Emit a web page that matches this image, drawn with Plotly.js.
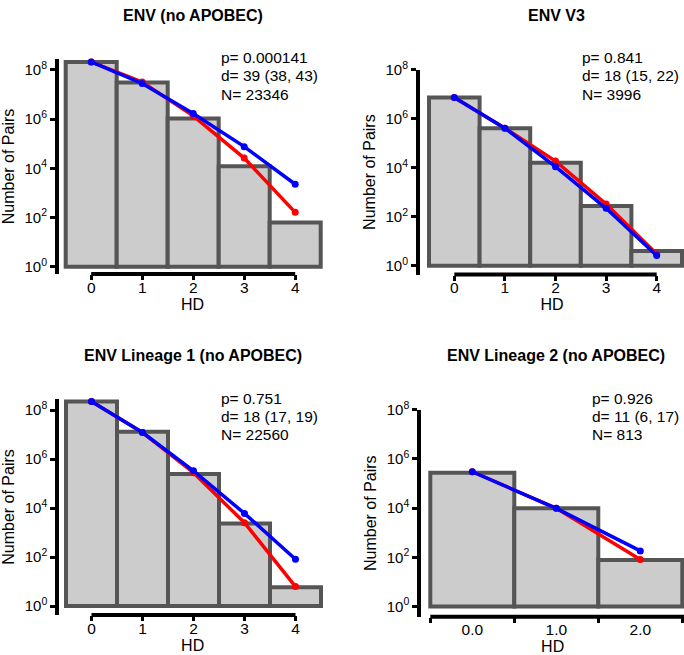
<!DOCTYPE html>
<html>
<head>
<meta charset="utf-8">
<script src="https://cdn.plot.ly/plotly-3.0.1.min.js"></script>
<style>html,body{margin:0;padding:0;background:#fff;}#chart{width:684px;height:655px;}</style>
</head>
<body>
<div id="chart"></div>
<script>
// ---------- DATA ----------
const panelTitles = ["ENV (no APOBEC)", "ENV V3", "ENV Lineage 1 (no APOBEC)", "ENV Lineage 2 (no APOBEC)"];
const statLines = [
  ["p= 0.000141", "d= 39 (38, 43)", "N= 23346"],
  ["p= 0.841", "d= 18 (15, 22)", "N= 3996"],
  ["p= 0.751", "d= 18 (17, 19)", "N= 22560"],
  ["p= 0.926", "d= 11 (6, 17)", "N= 813"]
];
const hd5 = [0, 1, 2, 3, 4];
const hd3 = [0, 1, 2];
const hd5Labels = ["0", "1", "2", "3", "4"];
const hd3Labels = ["0.0", "1.0", "2.0"];
const yTickVals = [1, 1e2, 1e4, 1e6, 1e8];
const yTickText = ["10<sup>0</sup>", "10<sup>2</sup>", "10<sup>4</sup>", "10<sup>6</sup>", "10<sup>8</sup>"];

const envBars  = [2.1e8, 3.1e7, 1.07e6, 1.2e4, 62];
const envRed   = [2.1e8, 3.2e7, 1.35e6, 2.6e4, 162];
const envBlue  = [2.1e8, 2.8e7, 1.7e6, 7.6e4, 2240];

const v3Bars   = [7.4e6, 4.1e5, 1.6e4, 275, 3];
const v3Red    = [7.4e6, 4.1e5, 1.86e4, 330, 3];
const v3Blue   = [7.4e6, 4.1e5, 1.1e4, 220, 2.6];

const lin1Bars = [2.2e8, 1.3e7, 2.45e5, 2.35e3, 4.8];
const lin1Red  = [2.2e8, 1.2e7, 2.75e5, 2.5e3, 6.2];
const lin1Blue = [2.2e8, 1.2e7, 3.3e5, 6.0e3, 81];

const lin2Bars = [2.75e5, 9.8e3, 76];
const lin2Red  = [3.0e5, 9.8e3, 81];
const lin2Blue = [3.0e5, 9.8e3, 182];

// ---------- LAYOUT GEOMETRY (pixels) ----------
const W = 684, H = 655;
const AXW = 4; // axis line width
// L: y-axis line centre x, x0: px of x=0, U: px per unit, R: plot right
// Y0: px of 10^0, D: px per decade, B: plot bottom (x-axis line), T: plot top
const geo = [
  {L: 57,   x0: 91.2,  U: 51,   R: 326, Y0: 266.7, D: 24.6, B: 274,   T: 59},
  {L: 418,  x0: 454.3, U: 50.6, R: 684, Y0: 265.7, D: 24.5, B: 274.5, T: 69.7},
  {L: 57.3, x0: 91.5,  U: 51,   R: 326, Y0: 606,   D: 24.5, B: 615,   T: 399},
  {L: 419.3,x0: 472.3, U: 84,   R: 684, Y0: 606.5, D: 24.6, B: 616.7, T: 409.7}
];
const statPos = [[219, 57.5], [580, 57.5], [219, 398], [590, 398]];
const statStep = 18.3;
const titlePos = [[193, 15], [556.7, 15], [193, 355], [556, 355]];

const FONT = "Liberation Sans, Arial, Helvetica, sans-serif";
const BAR_FILL = "#cccccc", BAR_LINE = "#555555";

const panels = [
  {x: hd5, bars: envBars, red: envRed, blue: envBlue, labels: hd5Labels},
  {x: hd5, bars: v3Bars, red: v3Red, blue: v3Blue, labels: hd5Labels},
  {x: hd5, bars: lin1Bars, red: lin1Red, blue: lin1Blue, labels: hd5Labels},
  {x: hd3, bars: lin2Bars, red: lin2Red, blue: lin2Blue, labels: hd3Labels}
];

const traces = [];
const layout = {
  width: W, height: H,
  margin: {l: 0, r: 0, t: 0, b: 0},
  paper_bgcolor: "#ffffff", plot_bgcolor: "rgba(0,0,0,0)",
  showlegend: false,
  font: {family: FONT, size: 15, color: "#000"},
  bargap: 0,
  annotations: [],
  shapes: []
};

panels.forEach((p, i) => {
  const n = i === 0 ? "" : String(i + 1);
  const xa = "x" + n, ya = "y" + n;
  const g = geo[i];
  const left = g.L + AXW / 2;           // plot area starts right of the y-axis line
  const xr = [(left - g.x0) / g.U, (g.R - g.x0) / g.U];
  const yr = [-(g.B - g.Y0) / g.D, (g.Y0 - g.T) / g.D];
  const xPaper = v => (g.x0 + v * g.U) / W;

  traces.push({
    type: "bar", x: p.x, y: p.bars, base: 1, width: 1,
    xaxis: xa, yaxis: ya,
    marker: {color: BAR_FILL, line: {color: BAR_LINE, width: 4}},
    hoverinfo: "x+y"
  });
  traces.push({
    type: "scatter", mode: "lines+markers", x: p.x, y: p.red,
    xaxis: xa, yaxis: ya, cliponaxis: false,
    line: {color: "#ff0000", width: 3.5}, marker: {color: "#ff0000", size: 7}
  });
  traces.push({
    type: "scatter", mode: "lines+markers", x: p.x, y: p.blue,
    xaxis: xa, yaxis: ya, cliponaxis: false,
    line: {color: "#0000ff", width: 3.5}, marker: {color: "#0000ff", size: 7}
  });

  const xaxis = {
    domain: [left / W, g.R / W], range: xr, anchor: ya,
    showgrid: false, zeroline: false, showline: false,
    tickmode: "array", tickvals: p.x, ticktext: p.labels,
    ticks: "outside", ticklen: 5, tickwidth: 3, tickcolor: "#000",
    ticklabelstandoff: -6,
    tickfont: {family: FONT, size: 15.5, color: "#000"},
    title: {text: "HD", font: {family: FONT, size: 16, color: "#000"}, standoff: 2}
  };
  if (i === 3) {
    xaxis.tickcolor = "rgba(0,0,0,0)";
    xaxis.minor = {tickmode: "array", tickvals: [-0.5, 0.5, 1.5, 2.5], ticks: "outside",
                   ticklen: 5, tickwidth: 3, tickcolor: "#000", showgrid: false};
  }
  layout["xaxis" + n] = xaxis;
  layout["yaxis" + n] = {
    domain: [1 - g.B / H, 1 - g.T / H], range: yr, type: "log", anchor: xa,
    showgrid: false, zeroline: false,
    showline: true, linewidth: AXW, linecolor: "#000",
    tickmode: "array", tickvals: yTickVals, ticktext: yTickText,
    ticks: "outside", ticklen: 5, tickwidth: 3, tickcolor: "#000",
    tickfont: {family: FONT, size: 15, color: "#000"},
    title: {text: "Number of Pairs", font: {family: FONT, size: 16, color: "#000"}}
  };

  // x axis line (Prism style offset axis)
  layout.shapes.push({
    type: "line", xref: "paper", yref: "paper", layer: "above",
    x0: i === 3 ? xPaper(-0.5) : xPaper(p.x[0]),
    x1: i === 3 ? g.R / W : xPaper(p.x[p.x.length - 1]),
    y0: 1 - g.B / H, y1: 1 - g.B / H,
    line: {color: "#000", width: AXW}
  });

  layout.annotations.push({
    xref: "paper", yref: "paper", x: titlePos[i][0] / W, y: 1 - titlePos[i][1] / H,
    xanchor: "center", yanchor: "middle", showarrow: false,
    text: panelTitles[i], font: {family: FONT, size: 16, color: "#000", weight: "bold"}
  });
  statLines[i].forEach((line, k) => {
    layout.annotations.push({
      xref: "paper", yref: "paper", x: statPos[i][0] / W,
      y: 1 - (statPos[i][1] + k * statStep) / H,
      xanchor: "left", yanchor: "middle", align: "left", showarrow: false,
      text: line, font: {family: FONT, size: 15.5, color: "#000"}
    });
  });
});

Plotly.newPlot("chart", traces, layout, {displayModeBar: false, staticPlot: true});
</script>
</body>
</html>
